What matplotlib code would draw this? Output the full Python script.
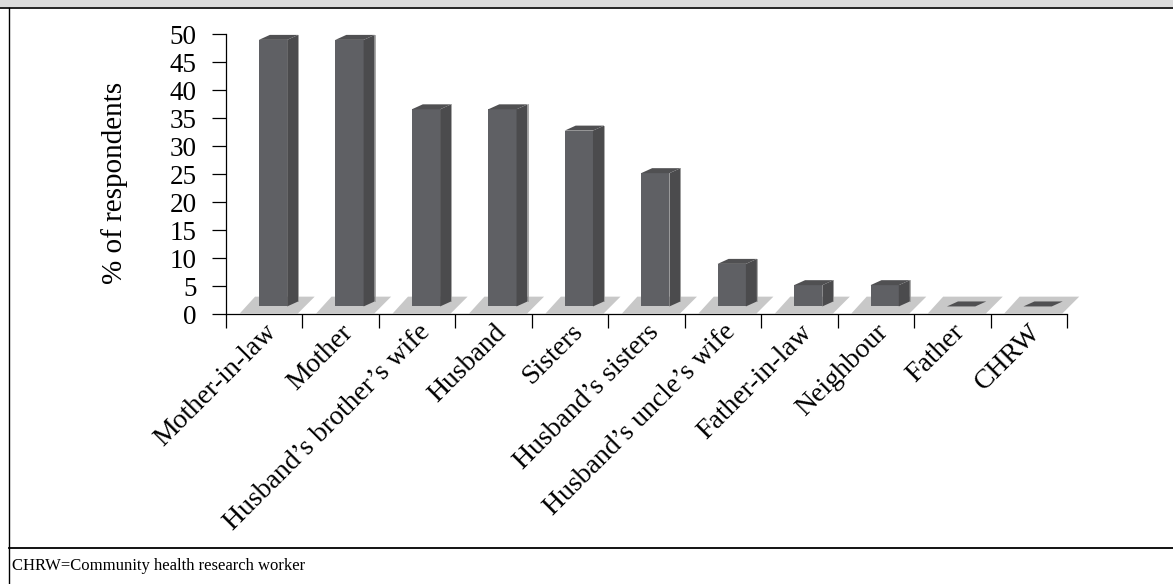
import matplotlib
matplotlib.use('agg')
import matplotlib.pyplot as plt
from matplotlib.patches import Polygon, Rectangle
from matplotlib.lines import Line2D
from matplotlib.transforms import ScaledTranslation
import numpy as np

plt.rcParams['font.family'] = ['Liberation Serif', 'DejaVu Serif']

categories = ['Mother-in-law', 'Mother', 'Husband\u2019s brother\u2019s wife', 'Husband',
              'Sisters', 'Husband\u2019s sisters', 'Husband\u2019s uncle\u2019s wife',
              'Father-in-law', 'Neighbour', 'Father', 'CHRW']
values = [47.6, 47.6, 35.2, 35.2, 31.4, 23.8, 7.6, 3.8, 3.8, 0, 0]
yticks = list(range(0, 51, 5))
note = 'CHRW=Community health research worker'

W, H = 1173, 584
fig = plt.figure(figsize=(W / 100, H / 100), dpi=100)
ax = fig.add_axes([226 / W, 1 - 314 / H, (1067 - 226) / W, (314 - 34) / H])
ax.set_xlim(0, len(categories))
ax.set_ylim(0, 50)

# pseudo-3D geometry (in data units of one category / one percent)
floor_c, front_c, side_c, top_c = '#c8c8c8', '#5f6064', '#4b4b4d', '#505052'
base = 1.35
x0, x1 = 0.43, 0.80
dx, dy = 0.144, 0.89

for i, v in enumerate(values):
    floor = [(i + 0.18, 0.1), (i + 0.94, 0.1), (i + 1.16, 3.1), (i + 0.38, 3.1)]
    ax.add_patch(Polygon(floor, closed=True, fc=floor_c, ec='none', clip_on=False, zorder=1))

for i, v in enumerate(values):
    top = base + v
    if v > 0:
        ax.add_patch(Polygon([(i + x0, base), (i + x1, base), (i + x1, top), (i + x0, top)],
                             fc=front_c, ec='none', clip_on=False, zorder=2))
        ax.add_patch(Polygon([(i + x1, base), (i + x1 + dx, base + dy),
                              (i + x1 + dx, top + dy), (i + x1, top)],
                             fc=side_c, ec='none', clip_on=False, zorder=2))
        ax.plot([i + x1 + dx, i + x1 + dx], [base + dy, top + dy], color='#9a9a9a',
                lw=0.6, clip_on=False, zorder=3)
    ax.add_patch(Polygon([(i + x0, top), (i + x0 + dx, top + dy),
                          (i + x1 + dx, top + dy), (i + x1, top)],
                         fc=top_c, ec='none', clip_on=False, zorder=2))

for s in ['top', 'right']:
    ax.spines[s].set_visible(False)
for s in ['left', 'bottom']:
    ax.spines[s].set_linewidth(0.9)
    ax.spines[s].set_zorder(4)

ax.set_yticks(yticks)
ax.set_yticklabels([str(t) for t in yticks])
ax.tick_params(axis='y', direction='out', length=10, width=0.9, pad=11, labelsize=19.5)

ax.set_xticks(np.arange(len(categories)) + 0.5)
ax.set_xticklabels(categories, rotation=45, ha='right', rotation_mode='anchor', fontsize=20)
ax.set_xticks(np.arange(len(categories) + 1), minor=True)
ax.tick_params(axis='x', which='major', length=0, pad=4)
ax.tick_params(axis='x', which='minor', direction='out', length=10, width=0.9)
for lbl in ax.get_xticklabels():
    lbl.set_transform(lbl.get_transform() + ScaledTranslation(0.0, 0, fig.dpi_scale_trans))

fig.text(115 / W, 1 - 183 / H, '% of respondents', rotation=90, ha='center', va='center',
         fontsize=21)

# frame of the figure panel
fig.add_artist(Rectangle((0, 1 - 7 / H), 1, 7 / H, transform=fig.transFigure,
                         fc='#dcdcdc', ec='none'))
fig.add_artist(Line2D([0, 1], [1 - 7.5 / H] * 2, transform=fig.transFigure, color='black', lw=1.2))
fig.add_artist(Line2D([9 / W] * 2, [0, 1 - 7.5 / H], transform=fig.transFigure, color='black', lw=1))
fig.add_artist(Line2D([9 / W, 1], [1 - 548 / H] * 2, transform=fig.transFigure, color='black', lw=1.3))
fig.text(12 / W, 1 - 566 / H, note, ha='left', va='center', fontsize=12)

fig.savefig('out.png', dpi=100)
